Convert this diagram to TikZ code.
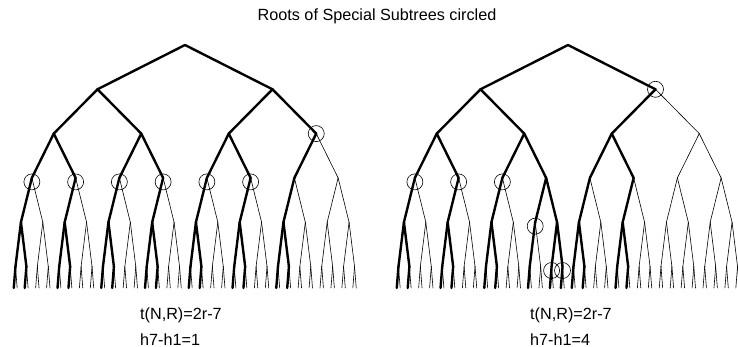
\documentclass[tikz,border=0pt]{standalone}
\usepackage{fontspec}
\setmainfont{Liberation Sans}

% Complete binary tree of depth 6; the last level is squeezed.
\newcommand\placetree[2]{% #1 = name prefix, #2 = x of the root
  \foreach \d in {0,...,5}{
    \pgfmathtruncatemacro\last{2^\d-1}
    \foreach \i in {0,...,\last}{
      \coordinate (#1-\d-\i) at ({#2+(\i-\last/2)*350/2^\d},{45+44.3*\d});
    }
  }
  \foreach \i in {0,...,63}{
    \pgfmathtruncatemacro\p{div(\i,2)}
    \pgfmathsetmacro\s{ifthenelse(mod(\i,2)==0,-1.7,1.7)}
    \coordinate (#1-6-\i) at ({#2+(\p-15.5)*350/32+\s},288);
  }
  \foreach \d in {1,...,6}{
    \pgfmathtruncatemacro\last{2^\d-1}
    \pgfmathtruncatemacro\pd{\d-1}
    \foreach \c in {0,...,\last}{
      \pgfmathtruncatemacro\p{div(\c,2)}
      \draw[edge] (#1-\pd-\p) -- (#1-\d-\c);
    }
  }
}
% Heavy edges: list of level/child pairs
\newcommand\heavyedges[2]{%
  \foreach \d/\c in {#2}{
    \pgfmathtruncatemacro\p{div(\c,2)}
    \pgfmathtruncatemacro\pd{\d-1}
    \draw[heavy] (#1-\pd-\p) -- (#1-\d-\c);
  }
}

\begin{document}
\begin{tikzpicture}[x=1pt,y=-1pt,
  edge/.style={line width=0.6pt,line cap=round},
  heavy/.style={line width=2.4pt,line cap=round,line join=round},
  ring/.style={draw,circle,minimum size=16pt,inner sep=0pt,line width=0.6pt},
  lbl/.style={font=\fontsize{16.2}{19}\selectfont,anchor=base west,inner sep=0pt},
  ttl/.style={font=\fontsize{16.2}{19}\selectfont,anchor=base,inner sep=0pt}]
\useasboundingbox (0,0) rectangle (738,347);

\node[ttl] (title) at (377,21) {Roots of Special Subtrees circled};

% left tree
\placetree{L}{185}
\heavyedges{L}{1/0,1/1,2/0,2/1,2/2,2/3,
  3/0,3/1,3/2,3/3,3/4,3/5,3/6,
  4/0,4/2,4/4,4/6,4/8,4/10,4/12,
  5/0,5/1,5/4,5/5,5/8,5/9,5/12,5/13,5/16,5/17,5/20,5/21,5/24,5/25,
  6/0,6/2,6/8,6/10,6/16,6/18,6/24,6/26,6/32,6/34,6/40,6/42,6/48,6/50}

% right tree
\placetree{R}{568}
\heavyedges{R}{1/0,1/1,2/0,2/1,2/2,
  3/0,3/1,3/2,3/3,3/4,3/5,
  4/0,4/2,4/4,4/6,4/7,4/8,4/10,
  5/0,5/1,5/4,5/5,5/8,5/9,5/12,5/14,5/15,5/16,5/17,5/20,5/21,
  6/0,6/2,6/8,6/10,6/16,6/18,6/24,6/28,6/30,6/32,6/34,6/40,6/42}

% roots of the special subtrees
\node[ring] (La) at (L-2-3) {};
\foreach \i in {0,...,5}{
  \node[ring] (Lb\i) at ([yshift=-4pt]L-3-\i) {};
}
\node[ring] (Ra) at (R-1-1) {};
\foreach \i in {0,1,2}{
  \node[ring] (Rb\i) at ([yshift=-4pt]R-3-\i) {};
}
\node[ring] (Rc) at ([yshift=-4pt]R-4-6) {};
\node[ring] (Rd) at ([yshift=-4pt]R-5-14) {};
\node[ring] (Re) at ([yshift=-4pt]R-5-15) {};

% captions
\node[lbl] (Lt) at (140,319) {t(N,R)=2r-7};
\node[lbl] (Lh) at (140,345) {h7-h1=1};
\node[lbl] (Rt) at (530,319) {t(N,R)=2r-7};
\node[lbl] (Rh) at (530,345) {h7-h1=4};
\end{tikzpicture}
\end{document}
